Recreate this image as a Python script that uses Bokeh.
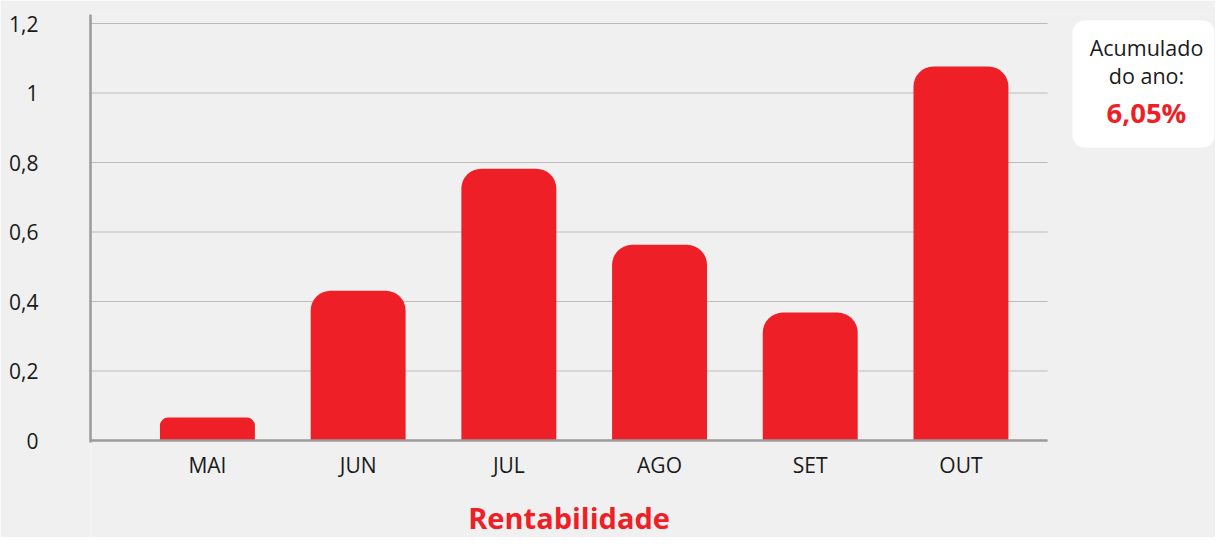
from bokeh.plotting import figure
from bokeh.models import Range1d, FixedTicker
from bokeh.core.properties import value
from bokeh.embed import file_html
from bokeh.resources import INLINE

# ---- data ----
months = ["MAI", "JUN", "JUL", "AGO", "SET", "OUT"]
rentab = [0.066, 0.431, 0.782, 0.563, 0.368, 1.076]
y_ticks = [0, 0.2, 0.4, 0.6, 0.8, 1.0, 1.2]
y_tick_labels = ["0", "0,2", "0,4", "0,6", "0,8", "1", "1,2"]
box_lines = ["Acumulado", "do ano:"]
ytd_value = "6,05%"
title_text = "Rentabilidade"

# ---- styles / layout ----
BG = "#f0f0f0"
RED = "#ee1f26"
TXT = "#1a1a1a"
AXIS = "#9b9b9b"
GRID = "#bcbcbc"
FONT = "Open Sans"

X0, PX_PER_X = -0.776, 150.7        # x-range start and pixels per category step
FRAME_LEFT, ZERO_PX = 98, 448       # page pixels of frame left edge and y = 0
PX_PER_Y = 347.5
CHART_END = 5.575                   # where grid / axis stop (data units)


def px_x(px):
    return X0 + (px - FRAME_LEFT) / PX_PER_X


def px_y(py):
    return (ZERO_PX - py) / PX_PER_Y


xs = list(range(len(months)))

p = figure(width=1215, height=537, output_backend="svg", toolbar_location=None,
           x_range=Range1d(X0, X0 + 1125 / PX_PER_X),
           y_range=Range1d(px_y(545), px_y(22)),
           min_border_left=90, min_border_right=0, min_border_top=14, min_border_bottom=0)
p.background_fill_color = BG
p.border_fill_color = BG
p.outline_line_color = None
p.grid.visible = False

# horizontal grid lines (stop at the chart's right end)
p.segment(x0=[X0] * len(y_ticks), x1=[CHART_END] * len(y_ticks), y0=y_ticks, y1=y_ticks,
          line_color=GRID, line_width=1.2)

for i, v in zip(xs, rentab):
    r = 20 if v > 0.15 else 8
    p.vbar(x=[i], top=[v], bottom=0, width=0.63, fill_color=RED, line_color=None,
           border_radius=(r, r, 0, 0))

ya = p.yaxis[0]
ya.ticker = FixedTicker(ticks=y_ticks)
ya.bounds = (px_y(450), px_y(22))
ya.major_label_overrides = {t: l for t, l in zip(y_ticks, y_tick_labels)}
ya.axis_line_color = AXIS
ya.axis_line_width = 2.5
ya.major_tick_line_color = None
ya.minor_tick_line_color = None
ya.major_tick_out = 0
ya.major_tick_in = 0
ya.minor_tick_out = 0
ya.major_label_standoff = 52
ya.major_label_text_font = FONT
ya.major_label_text_font_size = "21px"
ya.major_label_text_color = TXT

xa = p.xaxis[0]
xa.fixed_location = 0
xa.ticker = FixedTicker(ticks=xs)
xa.bounds = (X0, CHART_END)
xa.major_label_overrides = {i: m for i, m in zip(xs, months)}
xa.axis_line_color = AXIS
xa.axis_line_width = 2.5
xa.major_tick_line_color = None
xa.minor_tick_line_color = None
xa.major_tick_out = 0
xa.major_tick_in = 0
xa.minor_tick_out = 0
xa.major_label_standoff = 10
xa.major_label_text_font = FONT
xa.major_label_text_font_size = "21px"
xa.major_label_text_color = TXT

# chart title, centred under the bars
p.text(x=[(X0 + CHART_END) / 2], y=[px_y(525)], text=[title_text], text_font=value(FONT),
       text_font_size="29px", text_font_style="bold", text_color=RED,
       text_align="center", text_baseline="alphabetic")

# ---- side box ----
p.quad(left=px_x(1080), right=px_x(1222), top=px_y(28), bottom=px_y(155),
       fill_color="white", line_color=None, border_radius=12)
bx = px_x(1154)
p.text(x=[bx, bx], y=[px_y(55), px_y(83)], text=box_lines, text_font=value(FONT),
       text_font_size="21.5px", text_color=TXT, text_align="center",
       text_baseline="alphabetic")
p.text(x=[bx], y=[px_y(120)], text=[ytd_value], text_font=value(FONT),
       text_font_size="27.5px", text_font_style="bold", text_color=RED,
       text_align="center", text_baseline="alphabetic")

open("out.html", "w").write(file_html(p, INLINE))
